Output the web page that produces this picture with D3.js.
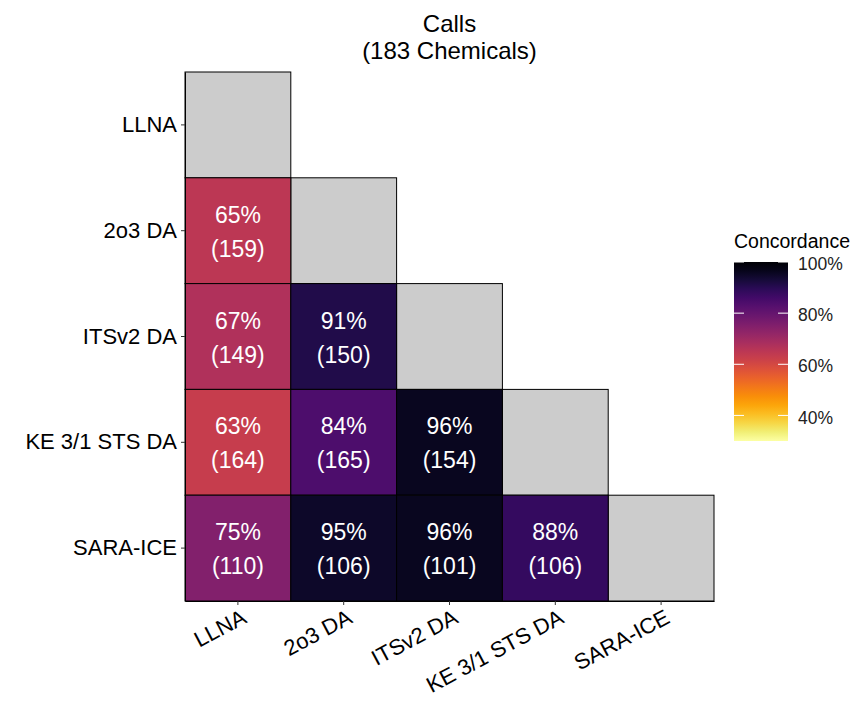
<!DOCTYPE html>
<html>
<head>
<meta charset="utf-8">
<script src="https://cdn.jsdelivr.net/npm/d3@7"></script>
<style>
  body { margin: 0; background: #fff; }
  text { font-family: "Liberation Sans", Arial, sans-serif; }
</style>
</head>
<body>
<div id="chart"></div>
<script>
// assays, in axis order
var assays = ["LLNA", "2o3 DA", "ITSv2 DA", "KE 3/1 STS DA", "SARA-ICE"];

// lower triangle: row assay, column assay, concordance, n chemicals
var rowNames = ["2o3 DA", "ITSv2 DA", "ITSv2 DA", "KE 3/1 STS DA", "KE 3/1 STS DA", "KE 3/1 STS DA",
                "SARA-ICE", "SARA-ICE", "SARA-ICE", "SARA-ICE"];
var colNames = ["LLNA", "LLNA", "2o3 DA", "LLNA", "2o3 DA", "ITSv2 DA",
                "LLNA", "2o3 DA", "ITSv2 DA", "KE 3/1 STS DA"];
var concordance = [0.65, 0.67, 0.91, 0.63, 0.84, 0.96, 0.75, 0.95, 0.96, 0.88];
var nChem = [159, 149, 150, 164, 165, 154, 110, 106, 101, 106];

var legendTicks = [0.4, 0.6, 0.8, 1.0];
var colorLimits = [0.3, 1.0];

var W = 853, H = 701;
var margin = {top: 72, left: 185, right: 139, bottom: 100};
var size = 529;

var svg = d3.select("#chart").append("svg")
    .attr("width", W)
    .attr("height", H);

var x = d3.scaleBand().domain(assays).range([margin.left, margin.left + size]);
var y = d3.scaleBand().domain(assays).range([margin.top, margin.top + size]);

// reversed inferno: 100% black, low values pale yellow
var color = d3.scaleSequential(d3.interpolateInferno).domain([colorLimits[1], colorLimits[0]]);

var cells = rowNames.map(function (r, i) {
  return {row: r, col: colNames[i], value: concordance[i], n: nChem[i]};
});

// diagonal grey tiles
svg.append("g").selectAll("rect")
    .data(assays)
  .enter().append("rect")
    .attr("x", function (d) { return x(d); })
    .attr("y", function (d) { return y(d); })
    .attr("width", x.bandwidth())
    .attr("height", y.bandwidth())
    .attr("fill", "#cccccc")
    .attr("stroke", "#000")
    .attr("stroke-width", 1);

var tile = svg.append("g").selectAll("g")
    .data(cells)
  .enter().append("g");

tile.append("rect")
    .attr("x", function (d) { return x(d.col); })
    .attr("y", function (d) { return y(d.row); })
    .attr("width", x.bandwidth())
    .attr("height", y.bandwidth())
    .attr("fill", function (d) { return color(d.value); })
    .attr("stroke", "#000")
    .attr("stroke-width", 1);

tile.append("text")
    .attr("x", function (d) { return x(d.col) + x.bandwidth() / 2; })
    .attr("y", function (d) { return y(d.row) + y.bandwidth() / 2 - 16; })
    .attr("text-anchor", "middle")
    .attr("dy", "0.35em")
    .attr("fill", "#fff")
    .style("font-size", "23px")
    .text(function (d) { return Math.round(d.value * 100) + "%"; });

tile.append("text")
    .attr("x", function (d) { return x(d.col) + x.bandwidth() / 2; })
    .attr("y", function (d) { return y(d.row) + y.bandwidth() / 2 + 18; })
    .attr("text-anchor", "middle")
    .attr("dy", "0.35em")
    .attr("fill", "#fff")
    .style("font-size", "23px")
    .text(function (d) { return "(" + d.n + ")"; });

// axes
var yAxis = svg.append("g")
    .attr("transform", "translate(" + margin.left + ",0)")
    .call(d3.axisLeft(y).tickSize(4).tickSizeOuter(0));
yAxis.select(".domain").attr("stroke", "#000");
yAxis.selectAll(".tick line").attr("stroke", "#333");
yAxis.selectAll("text")
    .attr("x", -8)
    .attr("fill", "#000")
    .style("font-size", "22px");

var xAxis = svg.append("g")
    .attr("transform", "translate(0," + (margin.top + size) + ")")
    .call(d3.axisBottom(x).tickSize(4).tickSizeOuter(0));
xAxis.select(".domain").attr("stroke", "#000");
xAxis.selectAll(".tick line").attr("stroke", "#333");
xAxis.selectAll("text")
    .attr("y", 0)
    .attr("dy", 0)
    .attr("text-anchor", "end")
    .attr("transform", "translate(10,21) rotate(-28)")
    .attr("fill", "#000")
    .style("font-size", "22px");

// title
svg.append("text")
    .attr("x", margin.left + size / 2)
    .attr("y", 32)
    .attr("text-anchor", "middle")
    .style("font-size", "24px")
    .text("Calls");
svg.append("text")
    .attr("x", margin.left + size / 2)
    .attr("y", 59)
    .attr("text-anchor", "middle")
    .style("font-size", "24px")
    .text("(183 Chemicals)");

// legend
var lx = 734, lw = 54;
var ly = d3.scaleLinear().domain(colorLimits).range([441, 262]);

var grad = svg.append("defs").append("linearGradient")
    .attr("id", "conc-grad")
    .attr("x1", 0).attr("y1", 1).attr("x2", 0).attr("y2", 0);
d3.range(0, 1.0001, 0.05).forEach(function (t) {
  var v = colorLimits[0] + t * (colorLimits[1] - colorLimits[0]);
  grad.append("stop")
      .attr("offset", (t * 100) + "%")
      .attr("stop-color", color(v));
});

svg.append("text")
    .attr("x", lx)
    .attr("y", 248)
    .style("font-size", "19.5px")
    .text("Concordance");

svg.append("rect")
    .attr("x", lx)
    .attr("y", ly(colorLimits[1]))
    .attr("width", lw)
    .attr("height", ly(colorLimits[0]) - ly(colorLimits[1]))
    .attr("fill", "url(#conc-grad)");

var lt = svg.append("g").selectAll("g")
    .data(legendTicks)
  .enter().append("g");
lt.append("line")
    .attr("x1", lx).attr("x2", lx + 10)
    .attr("y1", function (d) { return ly(d); })
    .attr("y2", function (d) { return ly(d); })
    .attr("stroke", "#fff");
lt.append("line")
    .attr("x1", lx + lw - 10).attr("x2", lx + lw)
    .attr("y1", function (d) { return ly(d); })
    .attr("y2", function (d) { return ly(d); })
    .attr("stroke", "#fff");
lt.append("text")
    .attr("x", lx + lw + 10)
    .attr("y", function (d) { return ly(d) + 2; })
    .attr("dy", "0.35em")
    .style("font-size", "17.5px")
    .attr("fill", "#222")
    .text(function (d) { return Math.round(d * 100) + "%"; });
</script>
</body>
</html>
